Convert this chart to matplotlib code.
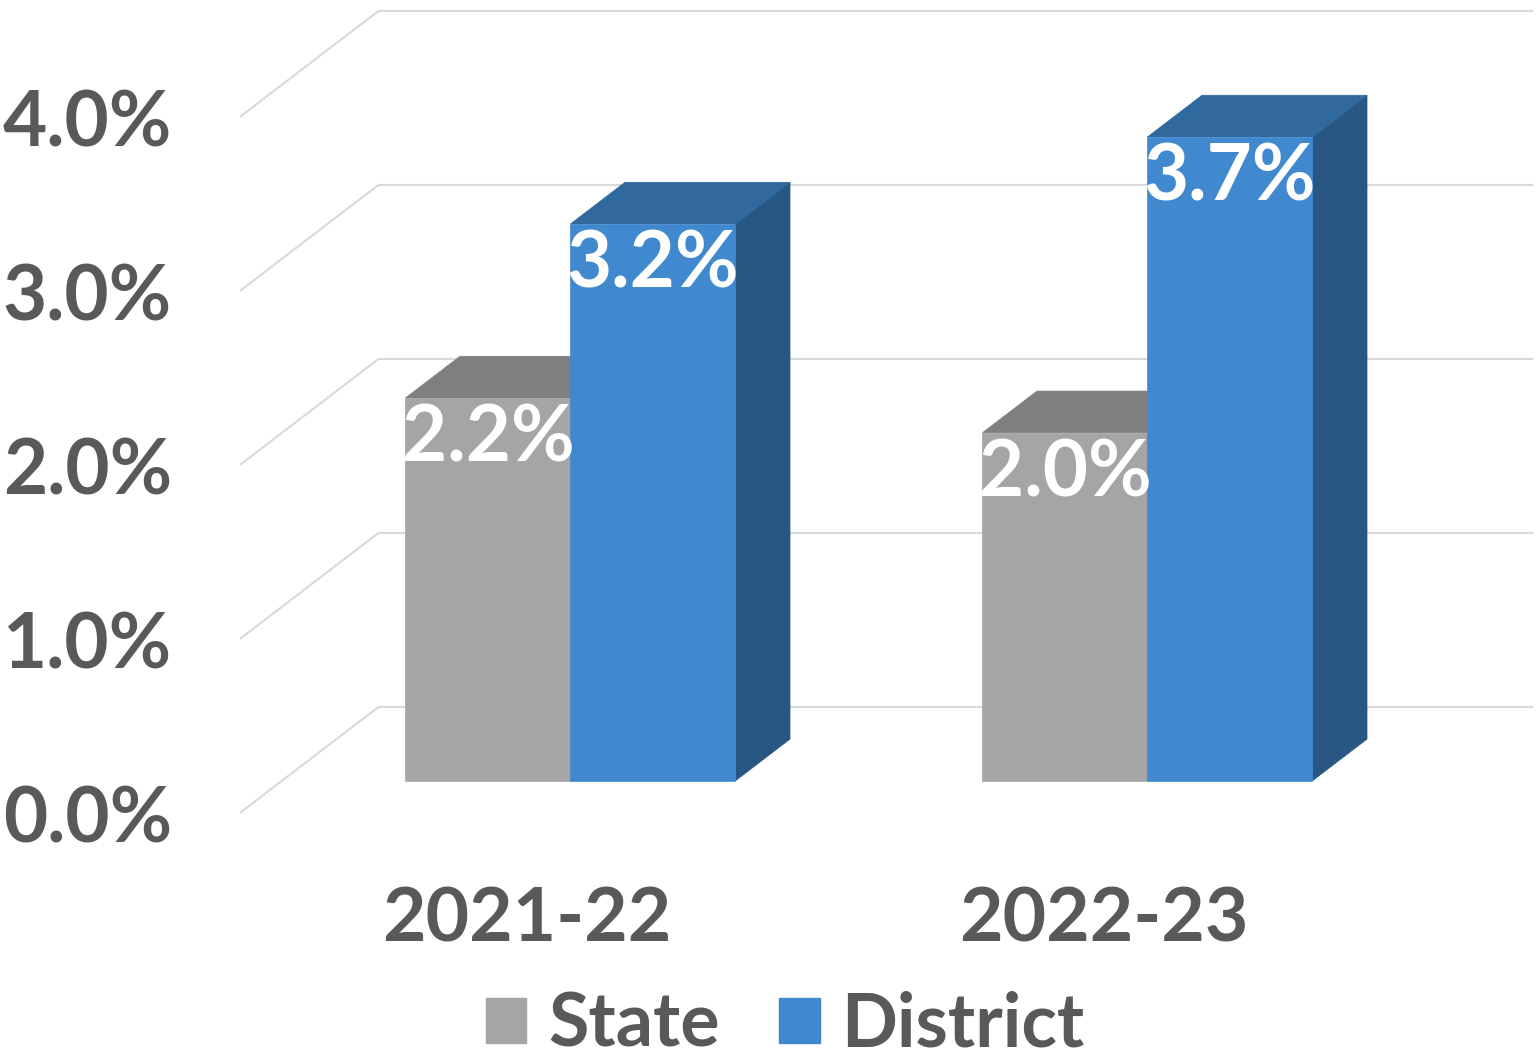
import matplotlib.pyplot as plt
from matplotlib.patches import Polygon, Patch

years = ["2021-22", "2022-23"]
state = [2.2, 2.0]
district = [3.2, 3.7]
y_ticks = [0, 1, 2, 3, 4]
series = [("State", state), ("District", district)]

# colours: front, top, side
colors = {
    "State": ("#A5A5A5", "#7F7F7F", "#8C8C8C"),
    "District": ("#4189CF", "#2F699E", "#295783"),
}
text_col = "#595959"
grid_col = "#D9D9D9"

# fake 3d: depth z (0 = front, 1 = back wall) shifts right and up
DX, DY = 0.2426, 0.615
BAR_W = 0.286
Z0, Z1 = 0.31, 0.70
FONT = ["Lato", "DejaVu Sans"]


def proj(x, y, z):
    return (x + z * DX, y + z * DY)


def box(ax, x0, x1, v, cols):
    front = [proj(x0, 0, Z0), proj(x1, 0, Z0), proj(x1, v, Z0), proj(x0, v, Z0)]
    top = [proj(x0, v, Z0), proj(x1, v, Z0), proj(x1, v, Z1), proj(x0, v, Z1)]
    side = [proj(x1, 0, Z0), proj(x1, 0, Z1), proj(x1, v, Z1), proj(x1, v, Z0)]
    for pts, c in [(side, cols[2]), (top, cols[1]), (front, cols[0])]:
        ax.add_patch(Polygon(pts, closed=True, facecolor=c, edgecolor=c, lw=0.5))


fig = plt.figure(figsize=(15.37, 10.64), dpi=100)
W, H = 1537, 1064
ax = fig.add_axes([240 / W, (H - 860) / H, (W - 240) / W, 860 / H])
ax.set_xlim(-0.4974, 1.7504)
ax.set_ylim(-0.2644, 4.678)
for s in ax.spines.values():
    s.set_visible(False)

# walls
for v in y_ticks:
    xa, ya = proj(-0.5, v, 0)
    xb, yb = proj(-0.5, v, 1)
    xc, yc = proj(1.5, v, 1)
    ax.plot([xa, xb, xc], [ya, yb, yc], color=grid_col, lw=1.5, zorder=0)

for i in range(len(years)):
    for k, (name, vals) in enumerate(series):
        x0 = i - BAR_W + k * BAR_W
        box(ax, x0, x0 + BAR_W, vals[i], colors[name])
        tx, ty = proj(x0 + BAR_W / 2, vals[i], Z0)
        ax.text(tx, ty - 0.24, f"{vals[i]:.1f}%", ha="center", va="center",
                color="white", fontsize=56, fontweight="bold", family=FONT)

ax.set_yticks(y_ticks)
ax.set_yticklabels([f"{v:.1f}%" for v in y_ticks])
ax.set_xticks(range(len(years)))
ax.set_xticklabels(years)
ax.tick_params(axis="y", length=0, pad=49, labelsize=55, labelcolor=text_col)
ax.tick_params(axis="x", length=0, pad=18, labelsize=54, labelcolor=text_col)
for lab in ax.get_xticklabels() + ax.get_yticklabels():
    lab.set_fontweight("bold")
    lab.set_family(FONT)

handles = [Patch(color=colors[n][0]) for n, _ in series]
fig.legend(handles, [n for n, _ in series], loc="lower center", ncol=2,
           bbox_to_anchor=(0.511, -0.058), frameon=False,
           prop={"family": FONT, "weight": "bold", "size": 53},
           labelcolor=text_col, handlelength=0.55, handleheight=0.55,
           handletextpad=0.3, columnspacing=0.8)

fig.savefig("out.png", dpi=100)
